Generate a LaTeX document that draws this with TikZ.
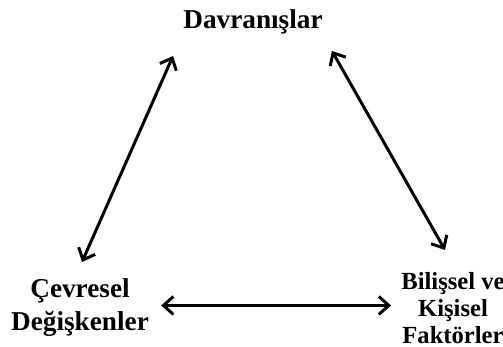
\documentclass[tikz,border=0pt]{standalone}
\usepackage{fontspec}
\setmainfont{Liberation Serif}
\usetikzlibrary{arrows.meta,positioning,calc}

\begin{document}
\begin{tikzpicture}[every node/.style={inner sep=0pt,align=center},
  link/.style={{Straight Barb[length=2mm,width=3.6mm]}-{Straight Barb[length=2mm,width=3.6mm]},line width=1.7pt}]
  \useasboundingbox (0,0) rectangle (10.06,6.94);
  \node[anchor=base,font=\bfseries\fontsize{15.5}{18}\selectfont] (dav) at (5.06,6.36) {Davranışlar};
  \node[anchor=north,font=\bfseries\fontsize{15.5}{17.5}\selectfont] (cev) at (1.6,1.38) {Çevresel\\[1.5pt]Değişkenler};
  \node[anchor=north,font=\bfseries\fontsize{14}{15}\selectfont] (fak) at (9.06,1.5) {Bilişsel ve\\[0.3pt]Kişisel\\[0.3pt]Faktörler};
  \draw[link] ([shift={(0.04,0.32)}]cev.north) -- ([shift={(-0.2,-0.42)}]dav.south west);
  \draw[link] ([shift={(0.18,-0.32)}]dav.south east) -- ([shift={(-0.16,0.44)}]fak.north);
  \draw[link] ([shift={(0.24,0.04)}]cev.east) -- ($(cev.east -| fak.west)+(-0.2,0.04)$);
\end{tikzpicture}
\end{document}
